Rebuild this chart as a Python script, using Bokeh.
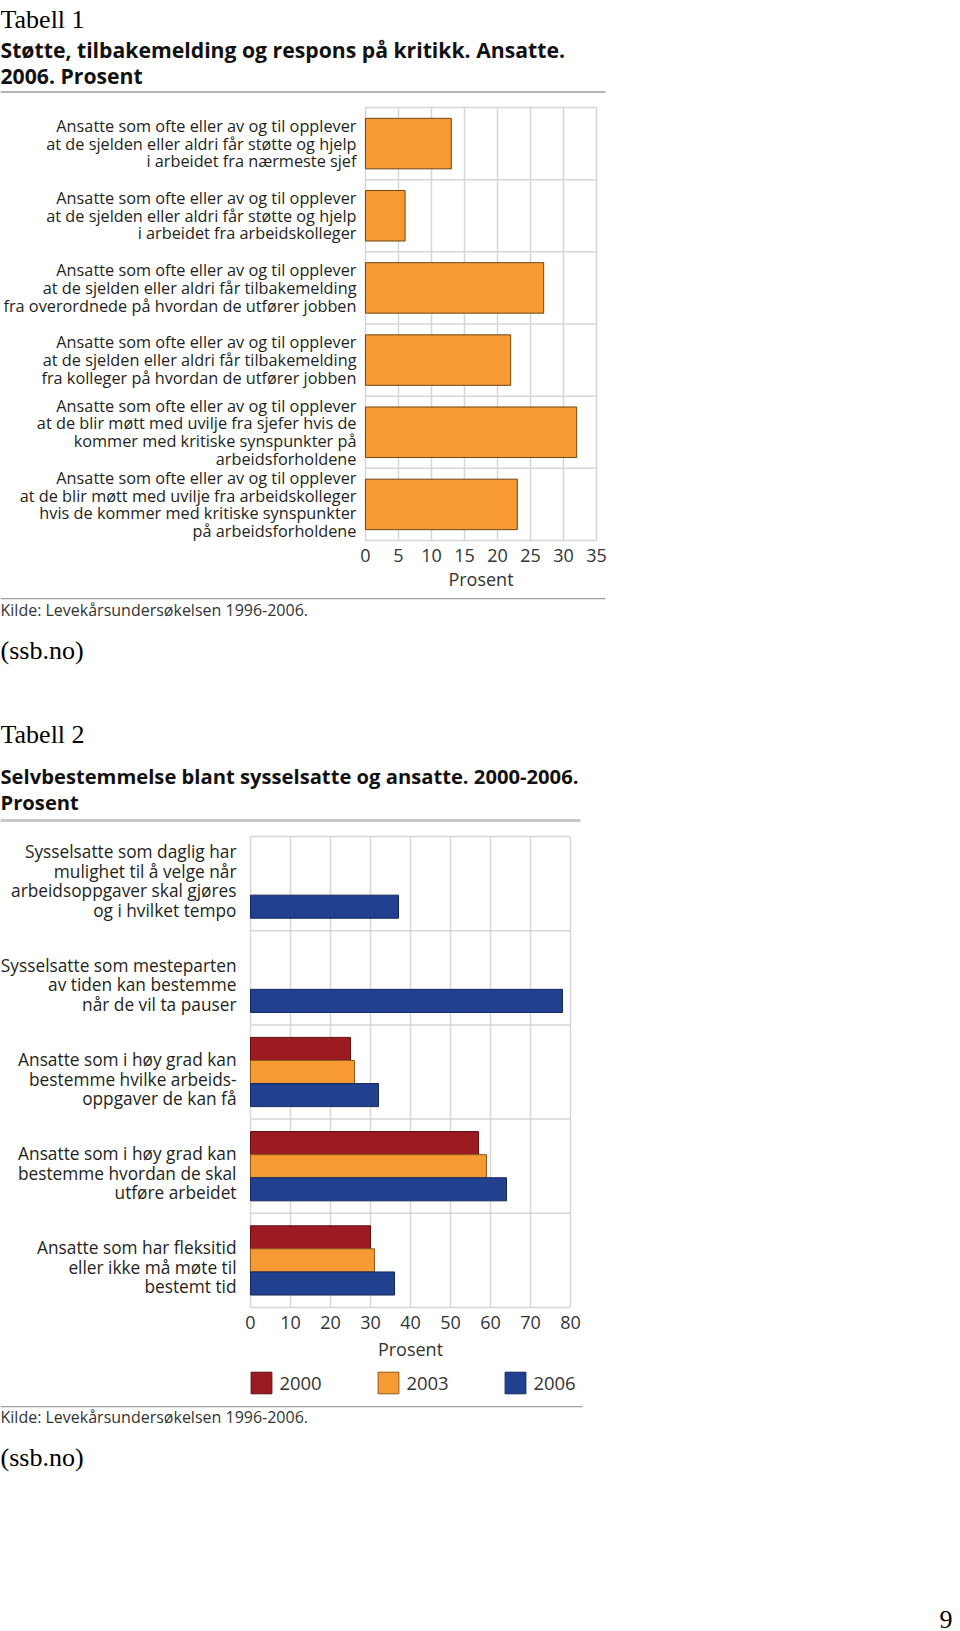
import math
from bokeh.plotting import figure
from bokeh.models import (ColumnDataSource, Range1d, LabelSet, Label,
                          Legend, LegendItem, BoxAnnotation)
from bokeh.embed import file_html
from bokeh.resources import INLINE
from bokeh.core.properties import value
from bokeh.transform import dodge

# ---------------- data: Tabell 1 ----------------
t1_categories = [
    "Ansatte som ofte eller av og til opplever\nat de sjelden eller aldri får støtte og hjelp\ni arbeidet fra nærmeste sjef",
    "Ansatte som ofte eller av og til opplever\nat de sjelden eller aldri får støtte og hjelp\ni arbeidet fra arbeidskolleger",
    "Ansatte som ofte eller av og til opplever\nat de sjelden eller aldri får tilbakemelding\nfra overordnede på hvordan de utfører jobben",
    "Ansatte som ofte eller av og til opplever\nat de sjelden eller aldri får tilbakemelding\nfra kolleger på hvordan de utfører jobben",
    "Ansatte som ofte eller av og til opplever\nat de blir møtt med uvilje fra sjefer hvis de\nkommer med kritiske synspunkter på\narbeidsforholdene",
    "Ansatte som ofte eller av og til opplever\nat de blir møtt med uvilje fra arbeidskolleger\nhvis de kommer med kritiske synspunkter\npå arbeidsforholdene",
]
t1_values = [13, 6, 27, 22, 32, 23]
t1_ticks = [0, 5, 10, 15, 20, 25, 30, 35]
t1_title = ["Støtte, tilbakemelding og respons på kritikk. Ansatte.", "2006. Prosent"]

# ---------------- data: Tabell 2 ----------------
t2_categories = [
    "Sysselsatte som daglig har\nmulighet til å velge når\narbeidsoppgaver skal gjøres\nog i hvilket tempo",
    "Sysselsatte som mesteparten\nav tiden kan bestemme\nnår de vil ta pauser",
    "Ansatte som i høy grad kan\nbestemme hvilke arbeids-\noppgaver de kan få",
    "Ansatte som i høy grad kan\nbestemme hvordan de skal\nutføre arbeidet",
    "Ansatte som har fleksitid\neller ikke må møte til\nbestemt tid",
]
t2_years = ["2000", "2003", "2006"]
t2_2000 = [math.nan, math.nan, 25, 57, 30]
t2_2003 = [math.nan, math.nan, 26, 59, 31]
t2_2006 = [37, 78, 32, 64, 36]
t2_ticks = [0, 10, 20, 30, 40, 50, 60, 70, 80]
t2_title = ["Selvbestemmelse blant sysselsatte og ansatte. 2000-2006.", "Prosent"]

source_text = "Kilde: Levekårsundersøkelsen 1996-2006."
ssb_text = "(ssb.no)"
page_number = "9"
axis_title = "Prosent"

# ---------------- styles ----------------
W, H = 958, 1629
SANS = "Open Sans"
SERIF = "Liberation Serif"
ORANGE = "#F79A33"
RED = "#9B1B20"
BLUE = "#21408F"
EDGES = ["#5c0e12", "#8a5a1e", "#14285c"]
GRID = "#d6d6d6"
TXT = "#231f20"


def mapped_range(px_a, px_b, v_a, v_b, px_len):
    """Range whose values v_a / v_b land at pixels px_a / px_b of a frame px_len long."""
    k = (v_b - v_a) / (px_b - px_a)
    return Range1d(v_a - px_a * k, v_a + (px_len - px_a) * k)


def x_map(left, right, ticks):
    return mapped_range(left, right, ticks[0], ticks[-1], W)


def y_map(top, bottom, ncat):
    # canvas y grows downwards; data y grows upwards
    return mapped_range(H - bottom, H - top, 0, ncat, H)


# chart 1 plot box (canvas px) and chart 2 plot box
xr1 = x_map(365, 596, t1_ticks)
yr1 = y_map(107, 540, len(t1_categories))
xr2 = x_map(250, 570, t2_ticks)
yr2 = y_map(836, 1307, len(t2_categories))

p = figure(width=W, height=H, output_backend="svg", toolbar_location=None,
           x_range=xr1, y_range=yr1, x_axis_location=None, y_axis_location=None,
           min_border=0)
p.extra_x_ranges = {"t2": xr2}
p.extra_y_ranges = {"t2": yr2}
p.outline_line_color = None
p.grid.visible = False


def canvas_label(x, y, text, font=SANS, size="16px", style="normal",
                 color=TXT, align="left"):
    p.add_layout(Label(x=x, y=y, x_units="canvas", y_units="canvas", text=text,
                       text_font=font, text_font_size=size, text_font_style=style,
                       text_color=color, text_align=align, text_baseline="alphabetic"))


def canvas_rule(left, right, top, bottom, color):
    p.add_layout(BoxAnnotation(left=left, right=right, top=top, bottom=bottom,
                               left_units="canvas", right_units="canvas",
                               top_units="canvas", bottom_units="canvas",
                               fill_color=color, fill_alpha=1.0, line_color=None))


def draw_chart_frame(ticks, ncat, rn):
    xs = list(ticks)
    p.segment(x0=xs, x1=xs, y0=[0] * len(xs), y1=[ncat] * len(xs),
              line_color=GRID, line_width=1.5, x_range_name=rn, y_range_name=rn)
    ys = list(range(ncat + 1))
    p.segment(x0=[ticks[0]] * len(ys), x1=[ticks[-1]] * len(ys), y0=ys, y1=ys,
              line_color=GRID, line_width=1.5, x_range_name=rn, y_range_name=rn)


def draw_x_axis(ticks, rn, size, tick_drop, title_drop):
    tsrc = ColumnDataSource(dict(x=ticks, y=[0] * len(ticks), t=[str(t) for t in ticks]))
    p.add_layout(LabelSet(x="x", y="y", text="t", source=tsrc, y_offset=-tick_drop,
                          text_align="center", text_baseline="middle",
                          text_font=value(SANS), text_font_size=size,
                          text_color="#333333", x_range_name=rn, y_range_name=rn))
    asrc = ColumnDataSource(dict(x=[(ticks[0] + ticks[-1]) / 2], y=[0], t=[axis_title]))
    p.add_layout(LabelSet(x="x", y="y", text="t", source=asrc, y_offset=-title_drop,
                          text_align="center", text_baseline="middle",
                          text_font=value(SANS), text_font_size=size,
                          text_color="#333333", x_range_name=rn, y_range_name=rn))


def draw_category_labels(categories, rn, size, spacing, gap, bottom_drop=None):
    n = len(categories)
    ys, texts, offs = [], [], []
    for i, cat in enumerate(categories):
        lines = cat.split("\n")
        m = len(lines)
        for k, line in enumerate(lines):
            if bottom_drop is None:
                dy = (k - (m - 1) / 2) * spacing
            else:
                dy = bottom_drop - (m - 1 - k) * spacing
            ys.append(n - i - 0.5)
            texts.append(line)
            offs.append(-dy)
    src = ColumnDataSource(dict(x=[0] * len(ys), y=ys, t=texts, off=offs))
    p.add_layout(LabelSet(x="x", y="y", text="t", source=src, x_offset=-gap,
                          y_offset="off", text_align="right", text_baseline="middle",
                          text_font=value(SANS), text_font_size=size,
                          text_color=TXT, x_range_name=rn, y_range_name=rn))


# ================= Tabell 1 =================
n1 = len(t1_categories)
src1 = ColumnDataSource(dict(val=t1_values, pos=[n1 - i - 0.5 for i in range(n1)]))
draw_chart_frame(t1_ticks, n1, "default")
p.hbar(y="pos", left=0, right="val", height=0.7, source=src1,
       fill_color=ORANGE, line_color="#6e4514", line_width=1)
draw_x_axis(t1_ticks, "default", "18px", 15, 38)
draw_category_labels(t1_categories, "default", "16.3px", 17.7, 9)

canvas_label(0, 19, "Tabell 1", font=SERIF, size="26px", color="#000000")
canvas_label(0, 49, t1_title[0], size="21.2px", style="bold", color="#111111")
canvas_label(0, 75, t1_title[1], size="21.2px", style="bold", color="#111111")
canvas_rule(0, 605, 90.5, 92.5, "#b4b4b4")
canvas_rule(0, 605, 597.5, 598.7, "#a0a0a0")
canvas_label(0, 609.5, source_text, size="16px", color="#333333")
canvas_label(0, 650, ssb_text, font=SERIF, size="26px", color="#000000")

# ================= Tabell 2 =================
n2 = len(t2_categories)
src2 = ColumnDataSource(dict(y2000=t2_2000, y2003=t2_2003, y2006=t2_2006,
                             pos=[n2 - i - 0.5 for i in range(n2)]))
draw_chart_frame(t2_ticks, n2, "t2")
bh = 0.245
colors = [RED, ORANGE, BLUE]
fields = ["y2000", "y2003", "y2006"]
bars = []
for j, f in enumerate(fields):
    bars.append(p.hbar(y=dodge("pos", bh * (1 - j)), left=0, right=f, height=bh,
                       source=src2, fill_color=colors[j], line_color=EDGES[j],
                       line_width=1, x_range_name="t2", y_range_name="t2"))
draw_x_axis(t2_ticks, "t2", "18px", 15, 41)
draw_category_labels(t2_categories, "t2", "17.3px", 19.5, 14, bottom_drop=26.5)

legend = Legend(items=[LegendItem(label=t2_years[j], renderers=[bars[j]]) for j in range(3)],
                orientation="horizontal", location=(248.4, H - 1395.5),
                glyph_width=26, glyph_height=27, label_height=27,
                label_standoff=5, label_width=96, spacing=0, padding=0, margin=0,
                border_line_color=None, background_fill_alpha=0,
                label_text_font=SANS, label_text_font_size="18.5px",
                label_text_color="#333333")
p.add_layout(legend)

canvas_label(0, 733.5, "Tabell 2", font=SERIF, size="26px", color="#000000")
canvas_label(0, 775, t2_title[0], size="20.2px", style="bold", color="#111111")
canvas_label(0, 801, t2_title[1], size="20.2px", style="bold", color="#111111")
canvas_rule(0, 580, 818.5, 821.5, "#c8c8c8")
canvas_rule(0, 582, 1405.5, 1406.7, "#a0a0a0")
canvas_label(0, 1416, source_text, size="16px", color="#333333")
canvas_label(0, 1457, ssb_text, font=SERIF, size="26px", color="#000000")
canvas_label(952, 1619, page_number, font=SERIF, size="26px", color="#000000", align="right")

open("out.html", "w").write(file_html(p, INLINE))
